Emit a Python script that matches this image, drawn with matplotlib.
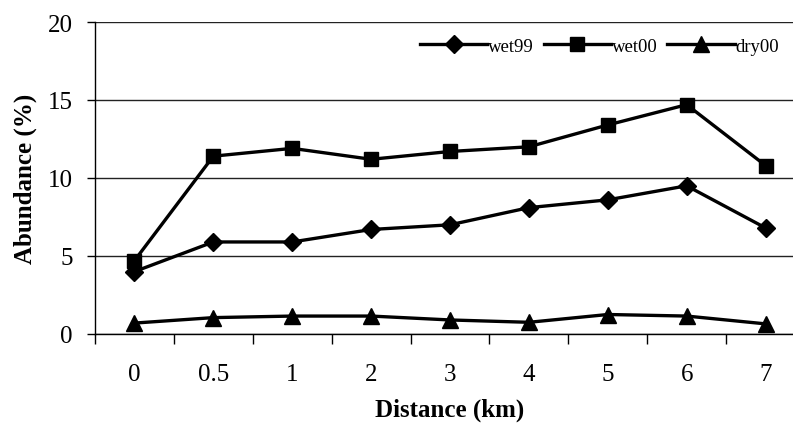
import matplotlib
matplotlib.use("Agg")
import matplotlib.pyplot as plt
import numpy as np

categories = ["0", "0.5", "1", "2", "3", "4", "5", "6", "7"]
wet99 = [4.0, 5.9, 5.9, 6.7, 7.0, 8.1, 8.6, 9.5, 6.8]
wet00 = [4.7, 11.4, 11.9, 11.2, 11.7, 12.0, 13.4, 14.7, 10.8]
dry00 = [0.7, 1.05, 1.15, 1.15, 0.9, 0.75, 1.25, 1.15, 0.65]
yticks = [0, 5, 10, 15, 20]

plt.rcParams['font.family'] = ['Liberation Serif', 'DejaVu Serif']

fig = plt.figure(figsize=(7.93, 4.27), dpi=100)
ax = fig.add_axes([95/793, 1-335/427, 710/793, 312/427])

x = np.arange(len(categories))
ax.plot(x, wet99, color='black', lw=2.4, marker='D', ms=9, label='wet99', zorder=3, clip_on=False)
ax.plot(x, wet00, color='black', lw=2.4, marker='s', ms=10.5, label='wet00', zorder=3, clip_on=False)
ax.plot(x, dry00, color='black', lw=2.4, marker='^', ms=11, label='dry00', zorder=3, clip_on=False)

ax.set_xlim(-0.5, len(categories) - 0.5)
ax.set_ylim(0, 20)
ax.set_yticks(yticks)
ax.set_yticklabels([str(v) for v in yticks], fontsize=18)
ax.set_xticks(x)
ax.set_xticklabels(categories, fontsize=18)
ax.set_xticks(np.arange(-0.5, len(categories)), minor=True)
ax.tick_params(axis='x', which='major', length=0, pad=21)
ax.tick_params(axis='x', which='minor', length=7, width=1, direction='out')
ax.tick_params(axis='y', length=6, width=1, direction='out', pad=10)

ax.grid(axis='y', color='#222222', lw=1)
ax.set_axisbelow(True)
for s in ['top', 'right']:
    ax.spines[s].set_visible(False)
ax.spines['left'].set_linewidth(1)
ax.spines['bottom'].set_linewidth(1)

ax.set_xlabel('Distance (km)', fontsize=18, fontweight='bold', labelpad=9)
ax.set_ylabel('Abundance (%)', fontsize=18, fontweight='bold', labelpad=8)

leg = ax.legend(loc='center left', ncol=3, frameon=False, fontsize=13.5, handlelength=3.6,
                handletextpad=0.05, columnspacing=0.5, borderaxespad=0, borderpad=0)
leg.set_bbox_to_anchor((420/793, 1 - 47/427), transform=fig.transFigure)

fig.savefig('out.png', dpi=100)
